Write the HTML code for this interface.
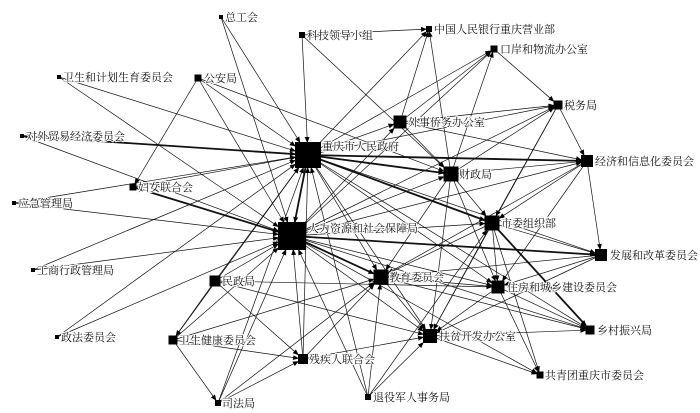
<!DOCTYPE html>
<html><head><meta charset="utf-8"><style>
html,body{margin:0;padding:0;background:#fff;width:700px;height:413px;overflow:hidden}
svg text{font-family:"Liberation Serif","Noto Serif CJK SC","Noto Sans CJK SC",serif;font-size:11px;fill:#111;stroke:#fff;stroke-width:2px;paint-order:stroke;stroke-linejoin:round}
</style></head><body>
<svg id="s" width="700" height="413" xmlns="http://www.w3.org/2000/svg">
<defs><marker id="a" markerWidth="6" markerHeight="6" refX="5" refY="3" orient="auto" markerUnits="userSpaceOnUse"><path d="M0,0.5L6,3L0,5.5z" fill="#000"/></marker></defs>
<g id="e" stroke="#111" stroke-width="0.7" fill="none"></g>
<g id="n" fill="#000"></g>
<g>
<text x="225" y="21">总工会</text>
<text x="307" y="39">科技领导小组</text>
<text x="434" y="33">中国人民银行重庆营业部</text>
<text x="500" y="53">口岸和物流办公室</text>
<text x="63" y="81">卫生和计划生育委员会</text>
<text x="204" y="82">公安局</text>
<text x="564" y="109">税务局</text>
<text x="408" y="126">外事侨务办公室</text>
<text x="26" y="140">对外贸易经济委员会</text>
<text x="322" y="150">重庆市人民政府</text>
<text x="459" y="178">财政局</text>
<text x="595" y="165">经济和信息化委员会</text>
<text x="138" y="191">妇女联合会</text>
<text x="18" y="207">应急管理局</text>
<text x="308" y="232">人力资源和社会保障局</text>
<text x="501" y="227">市委组织部</text>
<text x="610" y="259">发展和改革委员会</text>
<text x="389" y="281">教育委员会</text>
<text x="507" y="291">住房和城乡建设委员会</text>
<text x="37" y="274">工商行政管理局</text>
<text x="222" y="285">民政局</text>
<text x="597" y="334">乡村振兴局</text>
<text x="439" y="340">扶贫开发办公室</text>
<text x="179" y="344">卫生健康委员会</text>
<text x="61" y="341">政法委员会</text>
<text x="309" y="363">残疾人联合会</text>
<text x="545" y="379">共青团重庆市委员会</text>
<text x="222" y="407">司法局</text>
<text x="373" y="401">退役军人事务局</text>
</g>
</svg>
<script>
var N={zg:[221,17,4],kj:[302,35,6],yh:[429,29,6],ka:[494,49,7],wj:[59,77,4],ga:[198,78,7],sw:[558,105,9],ws:[400,122,13],dw:[22,136,4],G:[308,155,26],cz:[451,174,15],jx:[587,161,12],fl:[133,187,7],yj:[14,203,4],H:[292,236,28],zz:[492,223,15],fg:[601,255,12],jy:[381,277,15],zj:[498,287,13],gs:[33,270,4],mz:[215,281,11],xc:[590,330,9],fp:[430,336,14],wsj:[173,340,9],zf:[57,337,4],cl:[303,359,10],gq:[540,375,7],sf:[218,403,6],ty:[368,397,6]};
var E="zg-G zg-H kj-G kj-yh kj-cz wj-G wj-H ga-G ga-H ga-cz ga-fl dw-G fl-G fl-H yj-G yj-H gs-G gs-H zf-H zf-G mz-G mz-H mz-cl mz-wsj mz-fp mz-zj wsj-cl wsj-sf wsj-G wsj-jy wsj-H sf-H sf-G sf-cl sf-jy cl-G cl-H cl-fp cl-jy ty-H ty-jy ty-G ty-fp ty-zz G-ws G-cz G-jx G-zz G-fg G-jy G-zj G-fp G-xc G-yh G-ka G-sw H-ws H-cz H-jx H-zz H-jy H-zj H-fp H-xc H-gq H-ka H-sw ws-ka ws-sw ws-cz ws-jx ws-yh cz-yh cz-ka cz-sw cz-jx cz-zz cz-zj cz-jy cz-fp ka-sw sw-jx sw-zz sw-fp jx-zz jx-fg jx-zj jx-jy zz-fg zz-zj zz-jy zz-fp zz-xc zz-gq fg-zj fg-jy fg-fp zj-xc zj-fp zj-gq zj-jy jy-fp jy-xc fp-xc fp-gq".split(" ");
var T={"dw-G":1,"fl-H":1,"G-H":1,"H-fg":1,"G-cz":1,"G-zz":1,"H-jy":1,"G-jx":1,"zz-xc":1};
E.push("G-H","dw-H","H-fg");
var ns="http://www.w3.org/2000/svg",eg=document.getElementById("e"),ng=document.getElementById("n");
E.forEach(function(k){var p=k.split("-"),a=N[p[0]],b=N[p[1]];var dx=b[0]-a[0],dy=b[1]-a[1],L=Math.sqrt(dx*dx+dy*dy);
var m=Math.min(b[2]/2/Math.max(Math.abs(dx),Math.abs(dy))*L,L/2);
var l=document.createElementNS(ns,"line");l.setAttribute("x1",a[0]);l.setAttribute("y1",a[1]);
l.setAttribute("x2",b[0]-dx/L*m);l.setAttribute("y2",b[1]-dy/L*m);l.setAttribute("marker-end","url(#a)");
if(T[k])l.setAttribute("stroke-width","1.8");eg.appendChild(l);});
for(var k in N){var v=N[k],r=document.createElementNS(ns,"rect");r.setAttribute("x",v[0]-v[2]/2);r.setAttribute("y",v[1]-v[2]/2);r.setAttribute("width",v[2]);r.setAttribute("height",v[2]);ng.appendChild(r);}
</script>
</body></html>
